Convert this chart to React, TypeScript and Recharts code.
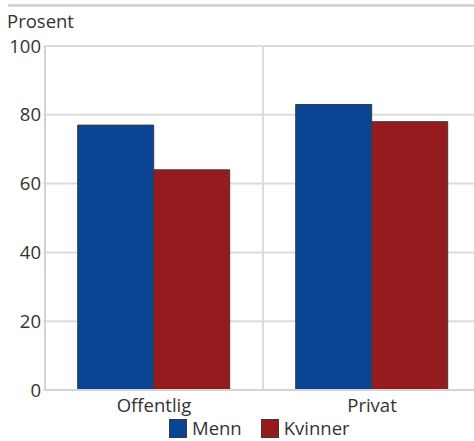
import React from 'react';
import { BarChart, Bar, XAxis, YAxis, CartesianGrid } from 'recharts';

const categories = ['Offentlig', 'Privat'];
const mennValues = [77, 83];
const kvinnerValues = [64, 78];
const yTicks = [0, 20, 40, 60, 80, 100];
const seriesNames = ['Menn', 'Kvinner'];
const colors = ['#0a4595', '#961b1f'];

const data = categories.map((c, i) => ({
  name: c,
  idx: i + 0.5,
  Menn: mennValues[i],
  Kvinner: kvinnerValues[i],
}));

const FONT = '"Open Sans", "Noto Sans", sans-serif';
const TEXT = '#333333';
const FS = 18.5;

export default function App() {
  return (
    <div style={{ position: 'absolute', left: 0, top: 0, width: 474, height: 441, overflow: 'hidden', background: '#fff', fontFamily: FONT }}>
      <div style={{ position: 'absolute', left: 0, top: 0, zIndex: 0 }}>
        <BarChart
          width={490}
          height={441}
          data={data}
          margin={{ top: 46, right: 9, left: 0, bottom: 21 }}
          barCategoryGap="15%"
          barGap={0}
        >
          <CartesianGrid stroke="#dcdcdc" strokeWidth={2} horizontal={true} vertical={true} xAxisId="sep" />
          <XAxis
            dataKey="name"
            height={30}
            tickLine={false}
            tickMargin={3}
            axisLine={{ stroke: '#d4d4d4', strokeWidth: 2 }}
            tick={{ fill: TEXT, fontSize: FS, fontFamily: FONT }}
          />
          <XAxis
            xAxisId="sep"
            type="number"
            dataKey="idx"
            domain={[0, 2]}
            ticks={[0, 1, 2]}
            hide
          />
          <YAxis
            width={45}
            domain={[0, 100]}
            ticks={yTicks}
            tickSize={2}
            tickMargin={2}
            tickLine={{ stroke: '#d4d4d4' }}
            axisLine={{ stroke: '#d4d4d4', strokeWidth: 2 }}
            tick={{ fill: TEXT, fontSize: FS, fontFamily: FONT }}
            interval={0}
          />
          <Bar dataKey="Menn" fill={colors[0]} stroke="#3a3a3a" strokeWidth={1} isAnimationActive={false} />
          <Bar dataKey="Kvinner" fill={colors[1]} stroke="#3a3a3a" strokeWidth={1} isAnimationActive={false} />
        </BarChart>
      </div>
      <div style={{ position: 'absolute', left: 8, width: 466, top: 4, height: 3, background: '#d6d6d6', zIndex: 2 }} />
      <div style={{ position: 'absolute', left: 7, top: 9, fontSize: FS, color: TEXT, lineHeight: '24px', zIndex: 2 }}>Prosent</div>
      <div style={{ position: 'absolute', top: 417, left: 169, display: 'flex', alignItems: 'center', fontSize: FS, color: TEXT, lineHeight: '22px', zIndex: 2 }}>
        {seriesNames.map((n, i) => (
          <div key={n} style={{ display: 'flex', alignItems: 'center', marginRight: i === 0 ? 19 : 0 }}>
            <span style={{ display: 'inline-block', width: 18, height: 19, background: colors[i], border: '1px solid #3a3a3a', boxSizing: 'border-box', marginRight: 5 }} />
            <span>{n}</span>
          </div>
        ))}
      </div>
    </div>
  );
}
